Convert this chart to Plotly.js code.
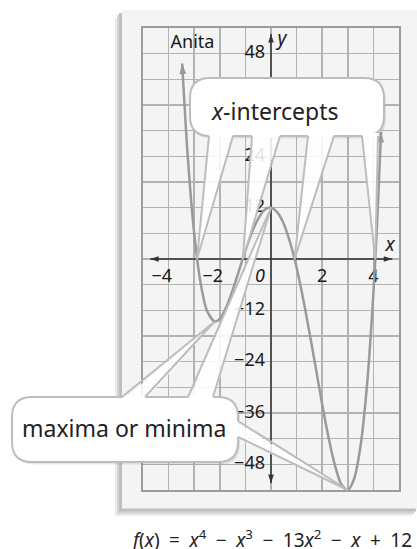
<!DOCTYPE html>
<html><head><meta charset="utf-8">
<script src="https://cdn.plot.ly/plotly-3.0.1.min.js"></script>
<style>html,body{margin:0;padding:0;background:#fff;}#chart{width:417px;height:549px;}</style>
</head><body><div id="chart"></div>
<script>
// ---- data ----
const curveX = [-3.47,-3.25,-3.0,-2.75,-2.5,-2.2,-2.0,-1.75,-1.5,-1.25,-1.0,-0.75,-0.5,-0.25,0,0.25,0.5,0.75,1.0,1.25,1.5,1.75,2.0,2.25,2.5,2.75,3.0,3.25,3.5,3.75,4.0,4.15,4.3];
const curveY = [45.7,23.8,6.0,-5.6,-12.1,-14.6,-14.0,-11.3,-7.3,-2.7,2.0,6.2,9.4,11.5,12.0,10.9,8.2,3.8,-2.0,-9.1,-17.1,-25.5,-34.0,-41.8,-48.3,-52.7,-54.0,-51.3,-43.6,-29.5,-8.0,9.1,29.7];
const interceptX = [-2.89,-1.1,0.92,4.07];
const interceptY = [0,0,0,0];
const extremaX = [-2.2,0,3.0];
const extremaY = [-14.6,12,-54];
const xTickVals = [-4,-2,2,4];
const xTickText = ['\u22124','\u22122','2','4'];
const yTickVals = [48,24,12,-12,-24,-36,-48];
const yTickText = ['48','24','12','\u221212','\u221224','\u221236','\u221248'];
const originText = '0';
const calloutTop = '<i>x</i>-intercepts';
const calloutBottom = 'maxima or minima';
const SP = '\u2002';
const caption = '<i>f</i>(<i>x</i>)'+SP+'='+SP+'<i>x</i><sup>4</sup>'+SP+'\u2212'+SP+'<i>x</i><sup>3</sup>'+SP+'\u2212'+SP+'13<i>x</i><sup>2</sup>'+SP+'\u2212'+SP+'<i>x</i>'+SP+'+'+SP+'12';
const cornerNote = 'Anita';

// ---- geometry helpers (pixel layout) ----
const W = 417, H = 549, L = 143, R = 18, T = 28, B = 59;
const PW = W - L - R, PH = H - T - B;
const XR = [-5,5], YR = [-54,54];
const px2x = p => XR[0] + (p - L) / PW * (XR[1]-XR[0]);
const py2y = p => YR[1] - (p - T) / PH * (YR[1]-YR[0]);
const pxp = p => (p - L) / PW;
const pyp = p => (H - B - p) / PH;
const dxp = x => (x - XR[0]) / (XR[1]-XR[0]);
const dyp = y => (y - YR[0]) / (YR[1]-YR[0]);
const P = (x,y) => pxp(x).toFixed(5) + ',' + pyp(y).toFixed(5);
const tipPx = (x,y) => [L + dxp(x)*PW, H - B - dyp(y)*PH];
// screen angle (deg, clockwise from up) of the direction from data point a to b
function screenAngle(ax,ay,bx,by){
  const a = tipPx(ax,ay), b = tipPx(bx,by);
  return Math.atan2(b[0]-a[0], -(b[1]-a[1])) * 180 / Math.PI;
}

function roundRect(x0,y0,x1,y1,r){
  return 'M'+P(x0+r,y0)+' L'+P(x1-r,y0)+' Q'+P(x1,y0)+' '+P(x1,y0+r)+
    ' L'+P(x1,y1-r)+' Q'+P(x1,y1)+' '+P(x1-r,y1)+
    ' L'+P(x0+r,y1)+' Q'+P(x0,y1)+' '+P(x0,y1-r)+
    ' L'+P(x0,y0+r)+' Q'+P(x0,y0)+' '+P(x0+r,y0)+' Z';
}

const shapes = [];
// panel + soft shadow
shapes.push({type:'rect',xref:'paper',yref:'paper',layer:'below',x0:pxp(115),x1:pxp(412),y0:pyp(18),y1:pyp(516),fillcolor:'#ececec',line:{width:0}});
shapes.push({type:'rect',xref:'paper',yref:'paper',layer:'below',x0:pxp(117),x1:pxp(414),y0:pyp(15),y1:pyp(514),fillcolor:'#d6d6d6',line:{width:0}});
shapes.push({type:'rect',xref:'paper',yref:'paper',layer:'below',x0:pxp(119),x1:pxp(416),y0:pyp(13),y1:pyp(511.5),fillcolor:'#bfbfbf',line:{width:0}});
shapes.push({type:'rect',xref:'paper',yref:'paper',layer:'below',x0:pxp(122),x1:pxp(418),y0:pyp(10),y1:pyp(508.5),fillcolor:'#f4f4f4',line:{width:0}});

const boxes = [
  {x0:190,y0:78,x1:384,y1:136,r:20},
  {x0:12,y0:397,x1:238,y1:462,r:20}
];
// wedges: base points (pixels on box edge), inward normal, tip (data point)
const wedges = [
  {b:[[209,136],[233,136]], tip:[interceptX[0],interceptY[0]], n:[0,-1]},
  {b:[[252,136],[280,136]], tip:[interceptX[1],interceptY[1]], n:[0,-1]},
  {b:[[308,136],[334,136]], tip:[interceptX[2],interceptY[2]], n:[0,-1]},
  {b:[[362,136],[378,136]], tip:[interceptX[3],interceptY[3]], n:[0,-1]},
  {b:[[122,397],[145,397]], tip:[extremaX[0],extremaY[0]], n:[0,1]},
  {b:[[188,397],[213,397]], tip:[extremaX[1],extremaY[1]], n:[0,1]},
  {b:[[238,421],[238,437]], tip:[extremaX[2],extremaY[2]], n:[-1,0]}
];
boxes.forEach(b => shapes.push({type:'path',xref:'paper',yref:'paper',layer:'above',path:roundRect(b.x0+2,b.y0+2.5,b.x1+2,b.y1+2.5,b.r),fillcolor:'rgba(0,0,0,0.09)',line:{width:0}}));
// wedge bodies (slightly see-through)
wedges.forEach(w => {
  const t = tipPx(w.tip[0], w.tip[1]);
  const a = w.b[0], c = w.b[1];
  shapes.push({type:'path',xref:'paper',yref:'paper',layer:'above',
    path:'M'+P(a[0]+4*w.n[0],a[1]+4*w.n[1])+' L'+P(t[0],t[1])+' L'+P(c[0]+4*w.n[0],c[1]+4*w.n[1])+' Z',
    fillcolor:'rgba(255,255,255,0.87)',line:{width:0}});
});
boxes.forEach(b => shapes.push({type:'path',xref:'paper',yref:'paper',layer:'above',path:roundRect(b.x0,b.y0,b.x1,b.y1,b.r),fillcolor:'#ffffff',line:{color:'#bdbdbd',width:2}}));
// open the box border where each wedge joins, then draw wedge edges
wedges.forEach(w => {
  const t = tipPx(w.tip[0], w.tip[1]);
  const a = w.b[0], c = w.b[1];
  const f = s => [a[0] + (t[0]-a[0])*s, a[1] + (t[1]-a[1])*s];
  const g = s => [c[0] + (t[0]-c[0])*s, c[1] + (t[1]-c[1])*s];
  const ua = f(0.012), uc = g(0.012);
  shapes.push({type:'path',xref:'paper',yref:'paper',layer:'above',
    path:'M'+P(a[0]+3*w.n[0],a[1]+3*w.n[1])+' L'+P(ua[0],ua[1])+' L'+P(uc[0],uc[1])+' L'+P(c[0]+3*w.n[0],c[1]+3*w.n[1])+' Z',
    fillcolor:'#ffffff',line:{width:0}});
  shapes.push({type:'path',xref:'paper',yref:'paper',layer:'above',
    path:'M'+P(a[0],a[1])+' L'+P(t[0],t[1])+' L'+P(c[0],c[1]),
    fillcolor:'rgba(0,0,0,0)',line:{color:'#bdbdbd',width:2}});
});

const fontTick = {family:'Noto Sans, sans-serif', size:18, color:'#1a1a1a'};
const n = curveX.length;
const traces = [
  // axes with arrows
  {type:'scatter',x:[-4.72,4.74],y:[0,0],mode:'lines+markers',line:{color:'#333',width:1.5},
   marker:{symbol:'arrow',size:9,color:'#333',angle:[-90,90]},hoverinfo:'skip'},
  {type:'scatter',x:[0,0],y:[52.6,-52.4],mode:'lines+markers',line:{color:'#333',width:1.5},
   marker:{symbol:'arrow',size:9,color:'#333',angle:[0,180]},hoverinfo:'skip'},
  // tick labels
  {type:'scatter',x:xTickVals.map(v => v < 0 ? v - 0.27 : v),y:xTickVals.map(() => py2y(277.5)),mode:'text',
   text:xTickText,textposition:'middle center',textfont:fontTick,cliponaxis:false,hoverinfo:'skip'},
  {type:'scatter',x:yTickVals.map(() => px2x(265)),y:yTickVals,mode:'text',
   text:yTickText,textposition:'middle left',textfont:fontTick,cliponaxis:false,hoverinfo:'skip'},
  {type:'scatter',x:[px2x(260)],y:[py2y(277.5)],mode:'text',text:['<i>'+originText+'</i>'],
   textposition:'middle center',textfont:fontTick,cliponaxis:false,hoverinfo:'skip'},
  {type:'scatter',x:[px2x(390),px2x(282)],y:[py2y(246),py2y(40)],mode:'text',text:['<i>x</i>','<i>y</i>'],
   textposition:'middle center',textfont:{family:'Noto Sans, sans-serif',size:19,color:'#1a1a1a'},cliponaxis:false,hoverinfo:'skip'},
  {type:'scatter',x:[px2x(192.5)],y:[py2y(43)],mode:'text',text:[cornerNote],
   textposition:'middle center',textfont:{family:'Noto Sans, sans-serif',size:18,color:'#1a1a1a'},cliponaxis:false,hoverinfo:'skip'},
  // curve
  {type:'scatter',x:curveX,y:curveY,mode:'lines',line:{color:'#9a9a9a',width:2.5,shape:'spline',smoothing:0.8},
   cliponaxis:false,hoverinfo:'skip'},
  {type:'scatter',x:[curveX[0]],y:[curveY[0]],mode:'markers',
   marker:{symbol:'arrow',size:11,color:'#9a9a9a',angle:screenAngle(curveX[1],curveY[1],curveX[0],curveY[0])},cliponaxis:false,hoverinfo:'skip'},
  {type:'scatter',x:[curveX[n-1]],y:[curveY[n-1]],mode:'markers',
   marker:{symbol:'arrow',size:11,color:'#9a9a9a',angle:screenAngle(curveX[n-2],curveY[n-2],curveX[n-1],curveY[n-1])},cliponaxis:false,hoverinfo:'skip'}
];

const axisCommon = {showgrid:true,gridcolor:'#b2b2b2',gridwidth:1.5,zeroline:false,showticklabels:false,ticks:'',
  showline:true,mirror:true,linecolor:'#9c9c9c',linewidth:2,fixedrange:true};
const layout = {
  width:W,height:H,margin:{l:L,r:R,t:T,b:B},showlegend:false,
  paper_bgcolor:'#ffffff',plot_bgcolor:'rgba(0,0,0,0)',
  xaxis:Object.assign({range:XR,dtick:1,tick0:0},axisCommon),
  yaxis:Object.assign({range:YR,dtick:6,tick0:0},axisCommon),
  shapes:shapes,
  annotations:[
    {xref:'paper',yref:'paper',x:pxp(274),y:pyp(111),text:calloutTop,showarrow:false,xanchor:'center',yanchor:'middle',
     font:{family:'Noto Sans, sans-serif',size:23,color:'#222'}},
    {xref:'paper',yref:'paper',x:pxp(124),y:pyp(428),text:calloutBottom,showarrow:false,xanchor:'center',yanchor:'middle',
     font:{family:'Noto Sans, sans-serif',size:23,color:'#222'}},
    {xref:'paper',yref:'paper',x:pxp(271),y:pyp(539),text:caption,showarrow:false,xanchor:'center',yanchor:'middle',
     width:300,height:30,align:'center',
     font:{family:'Noto Sans, sans-serif',size:19,color:'#222'}}
  ]
};
Plotly.newPlot('chart',traces,layout,{staticPlot:true,displayModeBar:false});
</script></body></html>
